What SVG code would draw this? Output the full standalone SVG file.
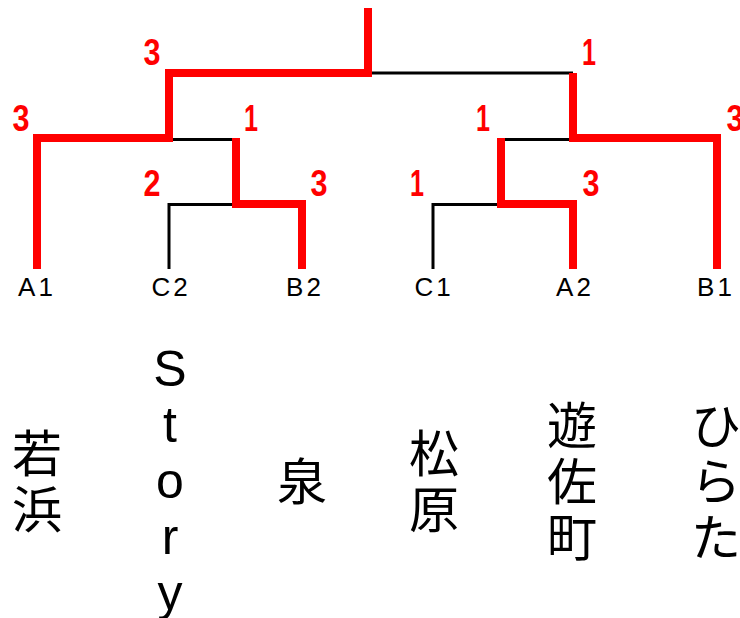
<svg xmlns="http://www.w3.org/2000/svg" width="740" height="618" viewBox="0 0 740 618">
  <style>
    .blk { fill: none; stroke: #000; stroke-width: 3; stroke-linejoin: miter; stroke-linecap: butt; }
    .red { fill: none; stroke: #ff0000; stroke-width: 8; stroke-linejoin: miter; stroke-linecap: butt; }
    .score { fill: #ff0000; font-family: "Liberation Sans", Arial, sans-serif; font-weight: bold; font-size: 36px; text-anchor: middle; }
    .leaf { fill: #000; font-family: "Liberation Sans", Arial, sans-serif; font-size: 26px; text-anchor: middle; letter-spacing: 3px; }
    .name { fill: #000; font-family: "Noto Sans CJK JP", "Liberation Sans", sans-serif; font-size: 50px; text-anchor: middle; }
    .lat { fill: #000; font-family: "Liberation Sans", Arial, sans-serif; font-size: 50px; text-anchor: middle; }
  </style>
  <rect width="740" height="618" fill="#ffffff"/>

  <g id="connectors">
    <path class="blk" d="M368,73 H573"/>
    <path class="blk" d="M169,139.5 H236"/>
    <path class="blk" d="M169,269 V204.5 H236"/>
    <path class="blk" d="M501,139.5 H573"/>
    <path class="blk" d="M433,269 V204.5 H501"/>
    <path class="red" d="M37,269 V138 H169 V73 H368 V8"/>
    <path class="red" d="M236,138 V204 H302 V269"/>
    <path class="red" d="M573,73 V138 H717 V269"/>
    <path class="red" d="M501,138 V204 H573 V269"/>
  </g>

  <g id="scores">
    <text class="score" x="152" y="65" textLength="17" lengthAdjust="spacingAndGlyphs">3</text>
    <text class="score" x="21" y="131" textLength="17" lengthAdjust="spacingAndGlyphs">3</text>
    <text class="score" x="251" y="131" textLength="14" lengthAdjust="spacingAndGlyphs">1</text>
    <text class="score" x="152" y="196" textLength="17" lengthAdjust="spacingAndGlyphs">2</text>
    <text class="score" x="319" y="196" textLength="17" lengthAdjust="spacingAndGlyphs">3</text>
    <text class="score" x="589" y="65" textLength="14" lengthAdjust="spacingAndGlyphs">1</text>
    <text class="score" x="483" y="131" textLength="14" lengthAdjust="spacingAndGlyphs">1</text>
    <text class="score" x="735" y="131" textLength="17" lengthAdjust="spacingAndGlyphs">3</text>
    <text class="score" x="417" y="196" textLength="14" lengthAdjust="spacingAndGlyphs">1</text>
    <text class="score" x="591" y="196" textLength="17" lengthAdjust="spacingAndGlyphs">3</text>
  </g>

  <g id="node-A1">
    <text class="leaf" x="37" y="296">A1</text>
    <text class="name" x="37" y="472">若</text>
    <text class="name" x="37" y="528">浜</text>
  </g>
  <g id="node-C2">
    <text class="leaf" x="171" y="296">C2</text>
    <text class="lat" x="170" y="386">S</text>
    <text class="lat" x="170" y="442">t</text>
    <text class="lat" x="170" y="498">o</text>
    <text class="lat" x="170" y="554">r</text>
    <text class="lat" x="170" y="610">y</text>
  </g>
  <g id="node-B2">
    <text class="leaf" x="305" y="296">B2</text>
    <text class="name" x="302" y="500">泉</text>
  </g>
  <g id="node-C1">
    <text class="leaf" x="434" y="296">C1</text>
    <text class="name" x="434" y="472">松</text>
    <text class="name" x="434" y="528">原</text>
  </g>
  <g id="node-A2">
    <text class="leaf" x="575" y="296">A2</text>
    <text class="name" x="572" y="444">遊</text>
    <text class="name" x="572" y="500">佐</text>
    <text class="name" x="572" y="556">町</text>
  </g>
  <g id="node-B1">
    <text class="leaf" x="716" y="296">B1</text>
    <text class="name" x="716" y="444">ひ</text>
    <text class="name" x="716" y="500">ら</text>
    <text class="name" x="716" y="556">た</text>
  </g>
</svg>
